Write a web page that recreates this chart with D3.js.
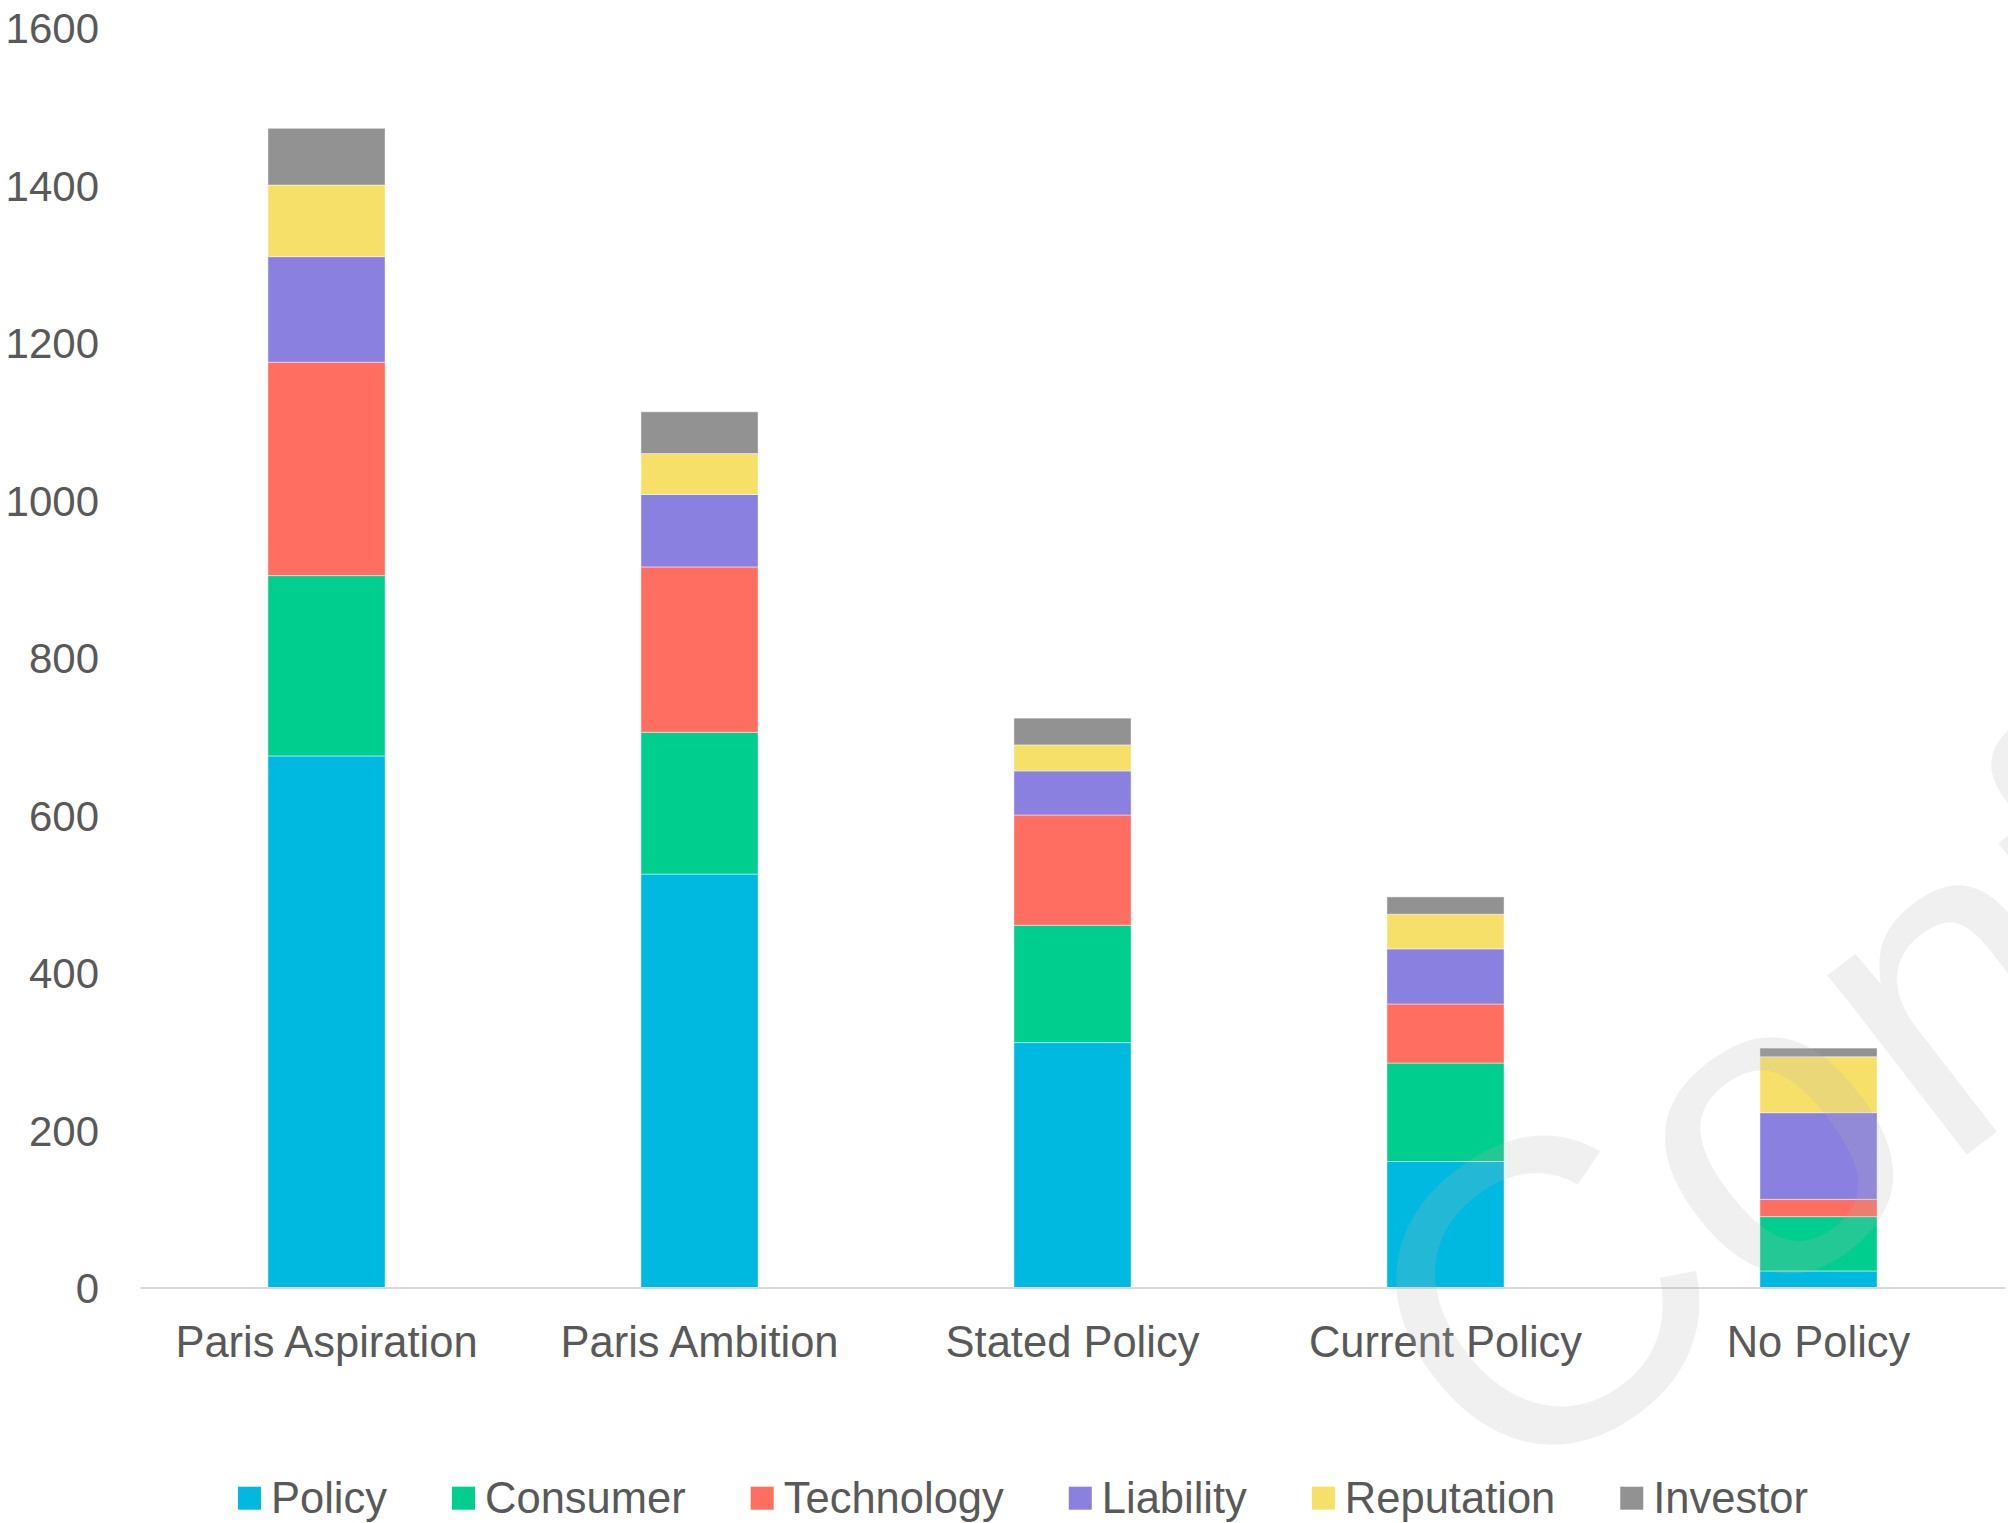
<!DOCTYPE html>
<html>
<head>
<meta charset="utf-8">
<script src="https://cdn.jsdelivr.net/npm/d3@7/dist/d3.min.js"></script>
<style>
  html, body { margin: 0; padding: 0; background: #fff; }
  svg { display: block; }
  text { font-family: "Liberation Sans", Arial, sans-serif; }
</style>
</head>
<body>
<svg id="chart" width="2008" height="1523"></svg>
<script>
// Scenario categories and the drivers stacked in each bar
const scenarios = ["Paris Aspiration", "Paris Ambition", "Stated Policy", "Current Policy", "No Policy"];
const drivers = ["Policy", "Consumer", "Technology", "Liability", "Reputation", "Investor"];

// Series values, one entry per scenario
const policy     = [675, 525, 311, 160, 21];
const consumer   = [229, 180, 149, 125, 69];
const technology = [271, 210, 140,  75, 22];
const liability  = [134,  92,  56,  70, 110];
const reputation = [ 91,  52,  33,  44, 71];
const investor   = [ 72,  53,  34,  22, 11];

// Value axis ticks
const yTicks = [0, 200, 400, 600, 800, 1000, 1200, 1400, 1600];

const palette = ["#00B9E0", "#00CE8E", "#FF6E60", "#8A80E0", "#F7E06A", "#929292"];
const textColor = "#595959";

const seriesByDriver = {
  Policy: policy, Consumer: consumer, Technology: technology,
  Liability: liability, Reputation: reputation, Investor: investor
};
const rows = scenarios.map((s, i) => {
  const r = { scenario: s };
  drivers.forEach(d => { r[d] = seriesByDriver[d][i]; });
  return r;
});

const svg = d3.select("#chart");

const x = d3.scaleBand()
  .domain(scenarios)
  .range([140, 2005])
  .paddingInner(0.686)
  .paddingOuter(0.343);

const y = d3.scaleLinear()
  .domain([0, 1600])
  .range([1287.5, 27.5]);

const color = d3.scaleOrdinal().domain(drivers).range(palette);

const stacked = d3.stack().keys(drivers)(rows);

// Stacked bars
svg.append("g")
  .selectAll("g")
  .data(stacked)
  .join("g")
    .attr("fill", d => color(d.key))
  .selectAll("rect")
  .data(d => d)
  .join("rect")
    .attr("x", d => x(d.data.scenario))
    .attr("width", x.bandwidth())
    .attr("y", d => y(d[1]))
    .attr("height", d => y(d[0]) - y(d[1]))
    .attr("stroke", "#ffffff")
    .attr("stroke-opacity", 0.45)
    .attr("stroke-width", 1);

// Category axis: baseline and labels
const xAxis = svg.append("g")
  .attr("transform", `translate(0,${y(0)})`)
  .call(d3.axisBottom(x).tickSize(0).tickPadding(0));
xAxis.select(".domain")
  .attr("stroke", "#D9D9D9")
  .attr("stroke-width", 2);
xAxis.selectAll(".tick text")
  .attr("y", 69)
  .attr("dy", null)
  .attr("fill", textColor)
  .style("font-size", "43.5px")
  .style("font-family", "'Liberation Sans', Arial, sans-serif");

// Value axis: labels only
const yAxis = svg.append("g")
  .attr("transform", "translate(99,0)")
  .call(d3.axisLeft(y).tickValues(yTicks).tickFormat(d3.format("d")).tickSize(0).tickPadding(0));
yAxis.select(".domain").remove();
yAxis.selectAll(".tick text")
  .attr("x", 0)
  .attr("dy", "0.36em")
  .attr("fill", textColor)
  .style("font-size", "42px")
  .style("font-family", "'Liberation Sans', Arial, sans-serif");

// Legend, centred below the chart
const legend = svg.append("g").attr("transform", "translate(0,1512.7)");
const items = legend.selectAll("g")
  .data(drivers)
  .join("g");
items.append("rect")
  .attr("y", -26)
  .attr("width", 23)
  .attr("height", 23)
  .attr("fill", d => color(d));
items.append("text")
  .attr("x", 33)
  .attr("fill", textColor)
  .style("font-size", "43.5px")
  .text(d => d);

const gap = 65;
let cursor = 0;
const offsets = [];
items.each(function () {
  const w = 33 + this.querySelector("text").getComputedTextLength();
  offsets.push(cursor);
  cursor += w + gap;
});
const totalWidth = cursor - gap;
const legendStart = 1023 - totalWidth / 2;
items.attr("transform", (d, i) => `translate(${legendStart + offsets[i]},0)`);

// Faint watermark across the lower right
svg.append("g")
  .attr("transform", "translate(1540,1290) rotate(-37.7)")
  .append("text")
    .attr("x", -159)
    .attr("y", 154)
    .attr("fill", "#b4b4b4")
    .attr("fill-opacity", 0.2)
    .style("font-size", "430px")
    .text("Confidential");
</script>
</body>
</html>
